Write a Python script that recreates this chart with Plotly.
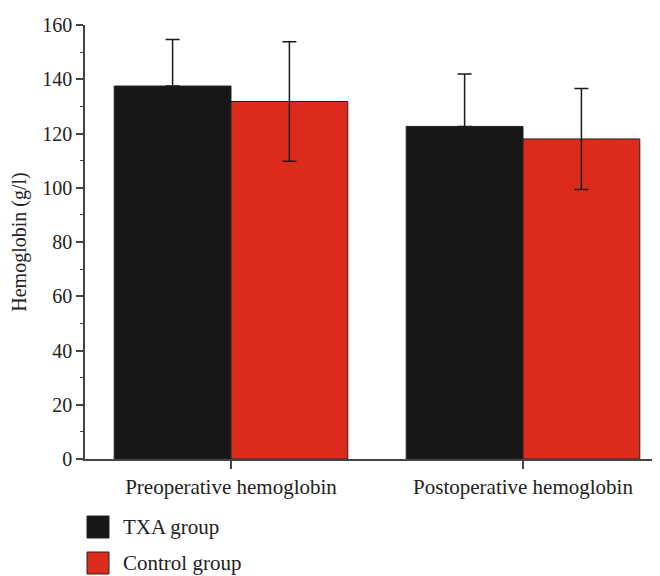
import plotly.graph_objects as go

categories = ["Preoperative hemoglobin", "Postoperative hemoglobin"]
txa_values = [137.5, 122.6]
txa_err = [17.2, 19.3]
control_values = [131.8, 118.0]
control_err = [22.0, 18.6]
y_ticks = [0, 20, 40, 60, 80, 100, 120, 140, 160]

FONT = "Liberation Serif"
fig = go.Figure()
fig.add_trace(go.Bar(
    x=categories, y=txa_values, name="TXA group",
    marker=dict(color="#171717", line=dict(color="#222222", width=1)),
    error_y=dict(type="data", array=txa_err, symmetric=False, arrayminus=[0, 0],
                 color="#1a1a1a", thickness=1.5, width=7),
    showlegend=False,
))
fig.add_trace(go.Bar(
    x=categories, y=control_values, name="Control group",
    marker=dict(color="#dc2b1d", line=dict(color="#222222", width=1)),
    error_y=dict(type="data", array=control_err, color="#1a1a1a", thickness=1.5, width=7),
    showlegend=False,
))

# page has an 8px body margin; figure sized to fill the rest of the window
OFF = 8
W, H = 660 - OFF, 576 - OFF
ml, mr, mt, mb = 85 - OFF, 0, 25 - OFF, 117
pw, ph = W - ml - mr, H - mt - mb
def px_to_paper(x, y):
    x -= OFF
    y -= OFF
    return (x - ml) / pw, (H - mb - y) / ph

legend_items = [("TXA group", "#171717"), ("Control group", "#dc2b1d")]
for i, (label, col) in enumerate(legend_items):
    y0 = 516 + i * 36
    x0p, y0p = px_to_paper(87, y0)
    x1p, y1p = px_to_paper(109, y0 + 22)
    fig.add_shape(type="rect", xref="paper", yref="paper", x0=x0p, x1=x1p, y0=y1p, y1=y0p,
                  fillcolor=col, line=dict(color="#222222", width=1))
    tx, ty = px_to_paper(121, y0 + 11)
    fig.add_annotation(xref="paper", yref="paper", x=tx, y=ty, text=label, showarrow=False,
                       xanchor="left", yanchor="middle", font=dict(family=FONT, size=21, color="#222"))

fig.update_layout(
    width=W, height=H,
    margin=dict(l=ml, r=mr, t=mt, b=mb),
    plot_bgcolor="white", paper_bgcolor="white",
    barmode="group", bargap=0.2, bargroupgap=0,
    font=dict(family=FONT, size=20, color="#222"),
    xaxis=dict(range=[-0.5, -0.5 + pw / 292], showline=True, linecolor="#444", linewidth=1.5,
               ticks="outside", ticklen=8, tickcolor="#444", tickwidth=1.5,
               minor=dict(ticks="outside", ticklen=8, tickcolor="#444", tickwidth=1.5, tick0=-0.5, dtick=1),
               tickfont=dict(family=FONT, size=21), showgrid=False, automargin=False),
    yaxis=dict(range=[0, 160], tickvals=y_ticks, showline=True, linecolor="#444", linewidth=1.5,
               ticks="outside", ticklen=7, tickcolor="#444", tickwidth=1.5,
               minor=dict(ticks="outside", ticklen=3, tickcolor="#444", tickwidth=1.2, dtick=10, tick0=0),
               tickfont=dict(family=FONT, size=20), showgrid=False, zeroline=False, automargin=False,
               title=dict(text="Hemoglobin (g/l)", font=dict(family=FONT, size=20), standoff=10)),
)
fig.write_html("out.html")
